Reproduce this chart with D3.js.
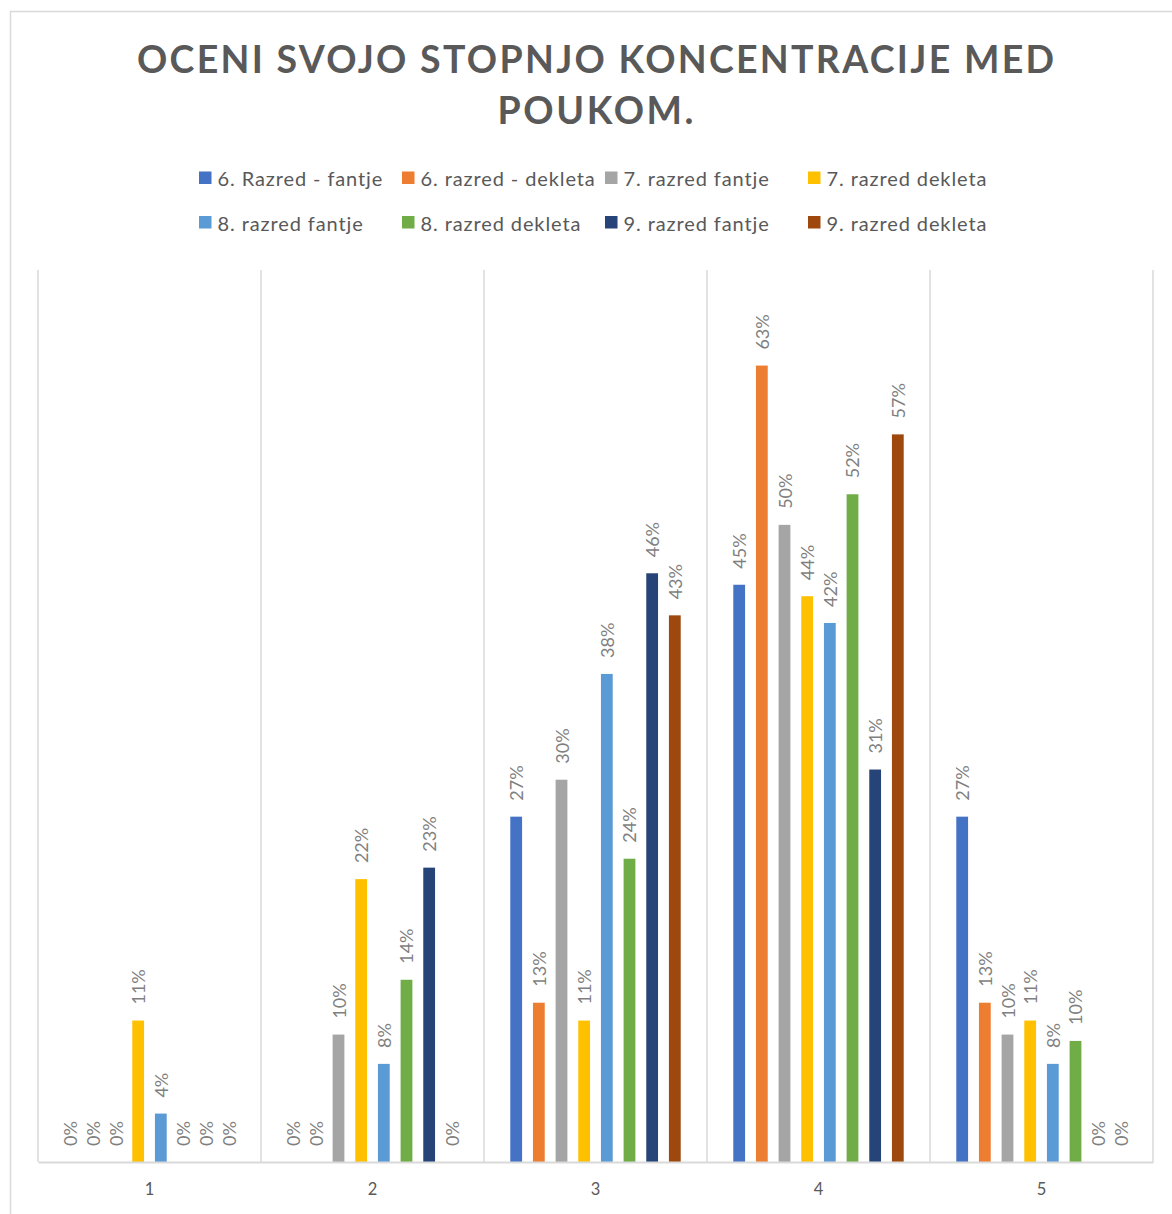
<!DOCTYPE html>
<html>
<head>
<meta charset="utf-8">
<script src="https://cdn.jsdelivr.net/npm/d3@7"></script>
<style>
  html, body { margin: 0; padding: 0; background: #fff; }
  svg { display: block; }
</style>
</head>
<body>
<script>
const titleLines = ["OCENI SVOJO STOPNJO KONCENTRACIJE MED", "POUKOM."];
const categories = ["1", "2", "3", "4", "5"];
const seriesNames = [
  "6. Razred - fantje", "6. razred - dekleta", "7. razred fantje", "7. razred dekleta",
  "8. razred fantje", "8. razred dekleta", "9. razred fantje", "9. razred dekleta"
];
const seriesColors = ["#4472C4", "#ED7D31", "#A5A5A5", "#FFC000", "#5B9BD5", "#70AD47", "#264478", "#9E480E"];
// values per series, one per category (fractions)
const s6Fantje   = [0,     0,     0.271, 0.453, 0.271];
const s6Dekleta  = [0,     0,     0.125, 0.625, 0.125];
const s7Fantje   = [0,     0.100, 0.300, 0.500, 0.100];
const s7Dekleta  = [0.111, 0.222, 0.111, 0.444, 0.111];
const s8Fantje   = [0.038, 0.077, 0.383, 0.423, 0.077];
const s8Dekleta  = [0,     0.143, 0.238, 0.524, 0.095];
const s9Fantje   = [0,     0.231, 0.462, 0.308, 0];
const s9Dekleta  = [0,     0,     0.429, 0.571, 0];
const seriesValues = [s6Fantje, s6Dekleta, s7Fantje, s7Dekleta, s8Fantje, s8Dekleta, s9Fantje, s9Dekleta];
const yMax = 0.7;

const W = 1172, H = 1214;
const svg = d3.select("body").append("svg").attr("width", W).attr("height", H);

// chart border
svg.append("path")
  .attr("d", `M10.5,${H} L10.5,11.5 L${W},11.5`)
  .attr("fill", "none").attr("stroke", "#d9d9d9").attr("stroke-width", 1.5);

// title
const title = svg.append("g").attr("font-family", "Lato, 'Open Sans', sans-serif")
  .attr("font-weight", "bold").attr("font-size", 37.5).attr("fill", "#595959")
  .attr("text-anchor", "middle");
const titleWidths = [917, 196];
titleLines.forEach((t, i) => {
  title.append("text").attr("x", 595.5).attr("y", 73 + i * 51)
    .attr("textLength", titleWidths[i]).attr("lengthAdjust", "spacing")
    .text(t);
});

// legend
const legend = svg.append("g").attr("font-family", "Lato, 'Open Sans', sans-serif")
  .attr("font-size", 20).attr("letter-spacing", 0.9).attr("fill", "#595959");
seriesNames.forEach((name, i) => {
  const col = i % 4, row = Math.floor(i / 4);
  const gx = 199 + col * 203, gy = 178 + row * 44.5;
  const g = legend.append("g").attr("transform", `translate(${gx},${gy})`);
  g.append("rect").attr("x", 0).attr("y", -6.5).attr("width", 12.5).attr("height", 12.5)
    .attr("fill", seriesColors[i]);
  g.append("text").attr("x", 18.5).attr("y", 0).attr("dominant-baseline", "central").text(name);
});

// plot
const plot = { left: 38, right: 1153, top: 270, bottom: 1162 };
const x0 = d3.scaleBand().domain(categories).range([plot.left, plot.right]).padding(0);
const x1 = d3.scaleBand().domain(d3.range(seriesNames.length))
  .range([0, x0.bandwidth()]).paddingInner(0.48).paddingOuter(1.16);
const y = d3.scaleLinear().domain([0, yMax]).range([plot.bottom, plot.top]);

// vertical gridlines at category boundaries
const bounds = categories.map(c => x0(c)).concat([plot.right]);
svg.append("g").selectAll("line").data(bounds).join("line")
  .attr("x1", d => d).attr("x2", d => d)
  .attr("y1", plot.top).attr("y2", plot.bottom)
  .attr("stroke", "#d9d9d9").attr("stroke-width", 1.5);

// bars
const data = [];
seriesValues.forEach((vals, si) => {
  vals.forEach((v, ci) => data.push({ si, cat: categories[ci], v }));
});
svg.append("g").selectAll("rect").data(data).join("rect")
  .attr("x", d => x0(d.cat) + x1(d.si))
  .attr("width", x1.bandwidth())
  .attr("y", d => y(d.v))
  .attr("height", d => y(0) - y(d.v))
  .attr("fill", d => seriesColors[d.si]);

// baseline axis
const xAxis = d3.axisBottom(x0).tickSize(0).tickPadding(21);
const axG = svg.append("g").attr("transform", `translate(0,${plot.bottom})`).call(xAxis);
axG.select(".domain").attr("stroke", "#d9d9d9").attr("stroke-width", 2);
axG.selectAll("text").attr("font-family", "Lato, 'Open Sans', sans-serif")
  .attr("font-size", 16.5).attr("fill", "#595959");

// data labels
const fmt = d3.format(".0%");
svg.append("g").attr("font-family", "Lato, 'Open Sans', sans-serif")
  .attr("font-size", 18).attr("fill", "#7f7f7f")
  .selectAll("text").data(data).join("text")
  .attr("transform", d => `translate(${x0(d.cat) + x1(d.si) + x1.bandwidth() / 2},${y(d.v) - 16}) rotate(-90)`)
  .attr("dominant-baseline", "central")
  .attr("text-anchor", "start")
  .text(d => fmt(d.v));
</script>
</body>
</html>
